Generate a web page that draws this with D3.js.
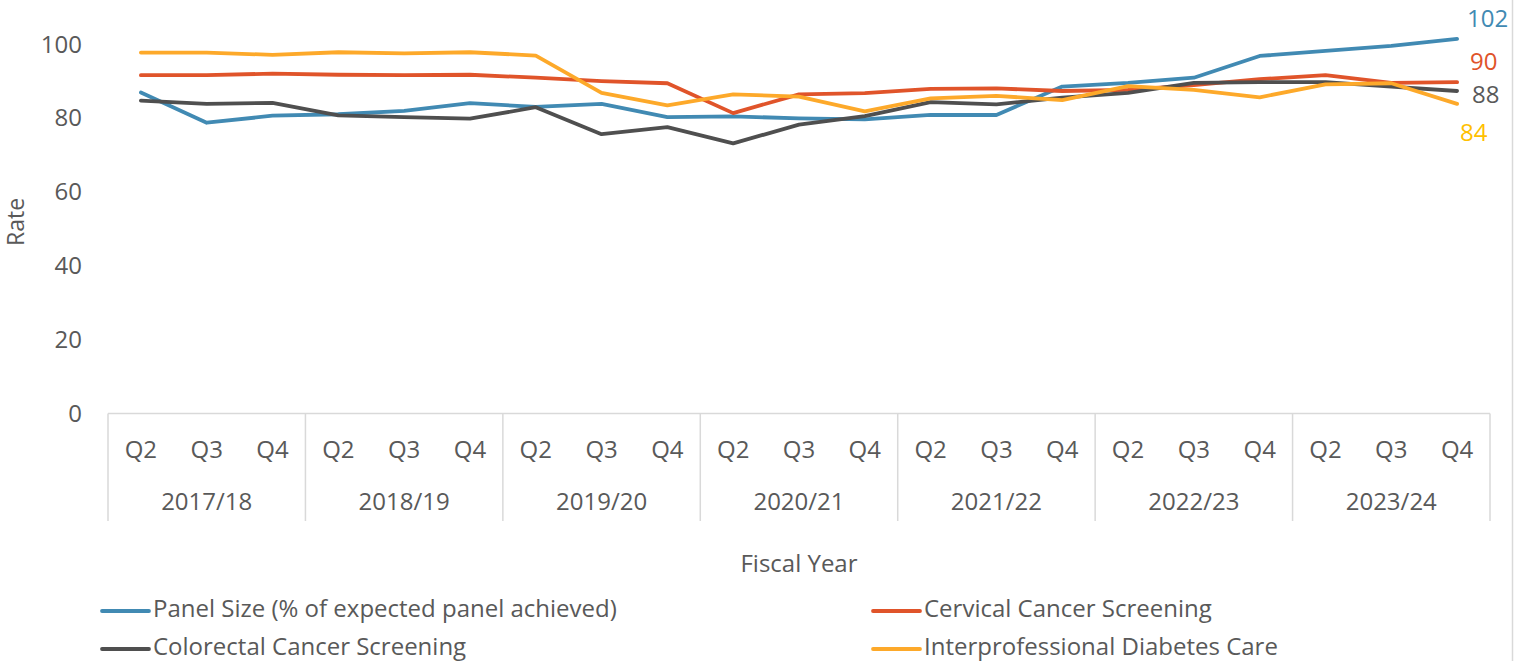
<!DOCTYPE html>
<html>
<head>
<meta charset="UTF-8" />
<title>Rate by Fiscal Year</title>
<script src="https://cdn.jsdelivr.net/npm/d3@7"></script>
<style>
body {
    margin: 0;
    background: #fff;
    font-family: "Open Sans", sans-serif;
}
.tick text, .lbl {
    fill: #595959;
}
</style>
</head>
<body>
<svg id="chart" width="1526" height="661"></svg>
<script>
var years = ['2017/18', '2018/19', '2019/20', '2020/21', '2021/22', '2022/23', '2023/24'];
var quarters = ['Q2', 'Q3', 'Q4'];

var panelSize = [87.0, 78.8, 80.7, 81.1, 82.0, 84.1, 83.1, 83.9, 80.3, 80.5, 80.0, 79.7, 80.9, 80.9, 88.6, 89.6, 91.0, 96.9, 98.3, 99.6, 101.5];
var cervical = [91.7, 91.7, 92.1, 91.8, 91.7, 91.8, 91.0, 90.1, 89.5, 81.4, 86.5, 86.8, 88.0, 88.1, 87.4, 87.7, 89.0, 90.6, 91.7, 89.6, 89.8];
var colorectal = [84.8, 83.9, 84.2, 80.8, 80.3, 79.9, 83.0, 75.7, 77.6, 73.2, 78.3, 80.6, 84.4, 83.8, 85.6, 86.9, 89.6, 89.8, 89.8, 88.6, 87.4];
var diabetes = [97.8, 97.8, 97.2, 97.9, 97.6, 97.9, 97.0, 86.9, 83.5, 86.5, 85.9, 81.9, 85.4, 86.1, 84.9, 88.7, 87.7, 85.7, 89.2, 89.5, 83.9];

var seriesNames = ['Panel Size (% of expected panel achieved)', 'Cervical Cancer Screening', 'Colorectal Cancer Screening', 'Interprofessional Diabetes Care'];
var endLabels = ['102', '90', '88', '84'];

var colors = ['#418ab3', '#e0542a', '#4f4f4f', '#fda92a'];
var labelColors = ['#418ab3', '#e0542a', '#595959', '#ffc000'];

var fs = 24;
var svg = d3.select('#chart');

// one category per quarter of each fiscal year
var cats = [];
years.forEach(function(y) {
    quarters.forEach(function(q) {
        cats.push(y + ' ' + q);
    });
});

var x = d3.scaleBand().domain(cats).range([108, 1490]);
var y = d3.scaleLinear().domain([0, 100]).range([413.5, 44.5]);

// right frame edge
svg.append('line').attr('x1', 1512.5).attr('x2', 1512.5).attr('y1', 0).attr('y2', 661)
    .attr('stroke', '#d9d9d9').attr('stroke-width', 1.5);

// y axis labels only
var yAxis = svg.append('g').attr('transform', 'translate(82,0)')
    .call(d3.axisLeft(y).tickValues([0, 20, 40, 60, 80, 100]).tickSize(0).tickPadding(0));
yAxis.select('.domain').remove();
yAxis.selectAll('text').attr('font-size', fs).attr('font-family', '"Open Sans", sans-serif');

// x axis: baseline, quarter labels, year groups
svg.append('line').attr('x1', 108).attr('x2', 1490).attr('y1', 413.5).attr('y2', 413.5)
    .attr('stroke', '#d9d9d9').attr('stroke-width', 1.5);

years.forEach(function(yr, i) {
    var x0 = x(yr + ' Q2');
    svg.append('line').attr('x1', x0).attr('x2', x0).attr('y1', 413.5).attr('y2', 521)
        .attr('stroke', '#d9d9d9').attr('stroke-width', 1.5);
    svg.append('text').attr('class', 'lbl').attr('x', x0 + x.bandwidth() * 1.5).attr('y', 504)
        .attr('text-anchor', 'middle').attr('dominant-baseline', 'middle').attr('font-size', fs)
        .text(yr);
});
svg.append('line').attr('x1', 1490).attr('x2', 1490).attr('y1', 413.5).attr('y2', 521)
    .attr('stroke', '#d9d9d9').attr('stroke-width', 1.5);

svg.append('g').selectAll('text').data(cats).enter().append('text')
    .attr('class', 'lbl')
    .attr('x', function(d) { return x(d) + x.bandwidth() / 2; })
    .attr('y', 452)
    .attr('text-anchor', 'middle').attr('dominant-baseline', 'middle').attr('font-size', fs)
    .text(function(d) { return d.split(' ')[1]; });

// axis titles
svg.append('text').attr('class', 'lbl').attr('x', 799).attr('y', 566)
    .attr('text-anchor', 'middle').attr('dominant-baseline', 'middle').attr('font-size', fs)
    .text('Fiscal Year');
svg.append('text').attr('class', 'lbl').attr('transform', 'translate(18,222) rotate(-90)')
    .attr('text-anchor', 'middle').attr('dominant-baseline', 'middle').attr('font-size', fs - 1)
    .text('Rate');

// lines
var allSeries = [panelSize, cervical, colorectal, diabetes];
var line = d3.line()
    .x(function(d, i) { return x(cats[i]) + x.bandwidth() / 2; })
    .y(function(d) { return y(d); });

svg.append('g').selectAll('path').data(allSeries).enter().append('path')
    .attr('d', line)
    .attr('fill', 'none')
    .attr('stroke', function(d, i) { return colors[i]; })
    .attr('stroke-width', 3.8)
    .attr('stroke-linejoin', 'round')
    .attr('stroke-linecap', 'round');

// end labels
var endPos = [[1467, 21], [1470, 64], [1472, 97], [1460, 135]];
svg.append('g').selectAll('text').data(endLabels).enter().append('text')
    .attr('x', function(d, i) { return endPos[i][0]; })
    .attr('y', function(d, i) { return endPos[i][1]; })
    .attr('dominant-baseline', 'middle').attr('font-size', fs)
    .attr('fill', function(d, i) { return labelColors[i]; })
    .text(function(d) { return d; });

// legend
var legPos = [[102, 611], [873, 611], [102, 649], [873, 649]];
var leg = svg.append('g').selectAll('g').data(seriesNames).enter().append('g')
    .attr('transform', function(d, i) { return 'translate(' + legPos[i][0] + ',' + legPos[i][1] + ')'; });
leg.append('line').attr('x1', 0).attr('x2', 47).attr('y1', 0).attr('y2', 0)
    .attr('stroke', function(d, i) { return colors[i]; })
    .attr('stroke-width', 3.8).attr('stroke-linecap', 'round');
leg.append('text').attr('class', 'lbl').attr('x', 51).attr('y', 0)
    .attr('dominant-baseline', 'middle').attr('font-size', fs)
    .text(function(d) { return d; });
</script>
</body>
</html>
